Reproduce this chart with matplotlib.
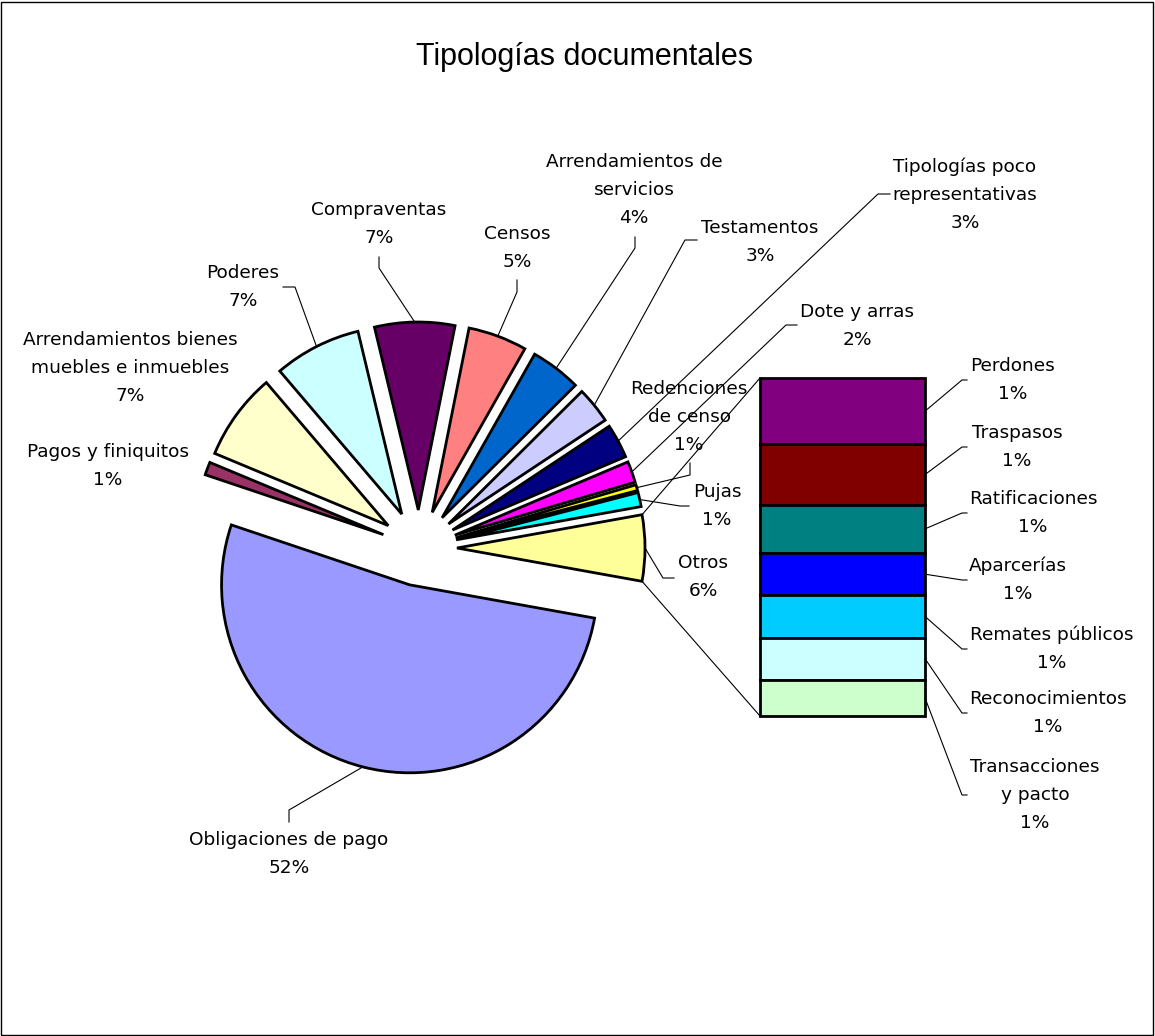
import numpy as np
import matplotlib
matplotlib.use("Agg")
import matplotlib.pyplot as plt
from matplotlib.patches import Rectangle

W, H = 1155, 1036

# main pie, clockwise from the big slice; "Otros" is the bar below
pie_labels = ["Obligaciones de pago", "Pagos y finiquitos",
              "Arrendamientos bienes\nmuebles e inmuebles", "Poderes",
              "Compraventas", "Censos", "Arrendamientos de\nservicios",
              "Testamentos", "Tipologías poco\nrepresentativas", "Dote y arras",
              "Redenciones\nde censo", "Pujas", "Otros"]
pie_counts = [517, 11, 74, 74, 68, 50, 43, 31, 29, 18, 5, 12]
pie_colors = ["#9999FF", "#993366", "#FFFFCC", "#CCFFFF", "#660066", "#FF8080",
              "#0066CC", "#CCCCFF", "#000080", "#FF00FF", "#FFFF00", "#00FFFF",
              "#FFFF99"]

# breakdown of "Otros", top to bottom
bar_labels = ["Perdones", "Traspasos", "Ratificaciones", "Aparcerías",
              "Remates públicos", "Reconocimientos", "Transacciones\ny pacto"]
bar_counts = [11, 10, 8, 7, 7, 7, 6]
bar_colors = ["#800080", "#800000", "#008080", "#0000FF", "#00CCFF", "#CCFFFF",
              "#CCFFCC"]

# layout in pixels (y measured from the top)
CENTER = (419, 548)
R = 188
EXPLODE = 38
BAR_X0, BAR_X1 = 760, 925
BAR_TOP, BAR_BOT = 378, 716

pie_text_pos = [(289, 854), (108, 466), (130, 368), (243, 287), (379, 224),
                (517, 248), (634, 190), (760, 242), (965, 195), (857, 326),
                (689, 417), (717, 506), (703, 577)]
pie_leaders = [[(289, 822), (289, 810)], None, None,
               [(283, 287), (295, 287)], [(379, 257), (379, 268)],
               [(517, 280), (517, 292)], [(635, 237), (635, 248)],
               [(697, 240), (685, 240)], [(890, 194), (878, 194)],
               [(797, 325), (786, 325)], [(690, 463), (690, 475)],
               [(689, 506), (680, 506)], [(674, 578), (663, 578)]]
bar_text_pos = [(1013, 380), (1017, 447), (1033, 513), (1018, 580),
                (1052, 649), (1048, 713), (1035, 795)]


def px(x, y):
    return x, H - y


plt.rcParams['font.family'] = ['DejaVu Sans']
fig = plt.figure(figsize=(W / 100, H / 100), dpi=100)
ax = fig.add_axes([0, 0, 1, 1])

otros = sum(bar_counts)
values = pie_counts + [otros]
total = sum(values)
start = -360 * otros / total / 2   # centre "Otros" on the bar side

wedges, _ = ax.pie(values, colors=pie_colors, startangle=start,
                   counterclock=False, radius=R, center=px(*CENTER),
                   explode=[EXPLODE] * len(values),
                   wedgeprops=dict(edgecolor='black', linewidth=2))

ax.set_xlim(0, W)
ax.set_ylim(0, H)
ax.set_aspect('equal')
ax.axis('off')


def arc_point(w, ang):
    t = np.deg2rad(ang)
    return w.center[0] + w.r * np.cos(t), w.center[1] + w.r * np.sin(t)


text_kw = dict(ha='center', va='center', fontsize=13.3, linespacing=1.72,
               multialignment='center')

for w, lab, v, pos, ld in zip(wedges, pie_labels, values, pie_text_pos, pie_leaders):
    pct = round(v / total * 100)
    ax.text(*px(*pos), f"{lab}\n{pct}%", **text_kw)
    if ld:
        tx, ty = arc_point(w, (w.theta1 + w.theta2) / 2)
        (x0, y0), (x1, y1) = px(*ld[0]), px(*ld[1])
        ax.plot([x0, x1, tx], [y0, y1, ty], color='black', lw=0.8)

# bar of "Otros"
scale = (BAR_BOT - BAR_TOP) / otros
heights = [c * scale for c in bar_counts]
bottoms = [H - BAR_BOT + sum(heights[i + 1:]) for i in range(len(heights))]
bar_w = BAR_X1 - BAR_X0
bars = ax.bar([BAR_X0 + bar_w / 2] * len(heights), heights, bar_w, bottom=bottoms,
              color=bar_colors, edgecolor='black', linewidth=2)

for rect, lab, v, pos in zip(bars, bar_labels, bar_counts, bar_text_pos):
    pct = round(v / total * 100)
    ax.text(*px(*pos), f"{lab}\n{pct}%", **text_kw)
    ex = rect.get_x() + rect.get_width()
    ey = rect.get_y() + rect.get_height() / 2
    x0, y0 = px(967, pos[1])
    x1, y1 = px(962, pos[1])
    ax.plot([x0, x1, ex], [y0, y1, ey], color='black', lw=0.8)

# series lines from the "Otros" slice to the bar
wo = wedges[-1]
top = bars[0].get_y() + bars[0].get_height()
bot = bars[-1].get_y()
for ang, yb in [(wo.theta2, top), (wo.theta1, bot)]:
    cx, cy = arc_point(wo, ang)
    ax.plot([cx, BAR_X0], [cy, yb], color='black', lw=0.8)

ax.text(*px(585, 57), "Tipologías documentales", ha='center', va='center',
        fontsize=22, family=['Liberation Sans', 'DejaVu Sans'])

ax.add_patch(Rectangle((1, 1), W - 3, H - 3, fill=False, edgecolor='black', lw=1))

fig.savefig("out.png", dpi=100)
